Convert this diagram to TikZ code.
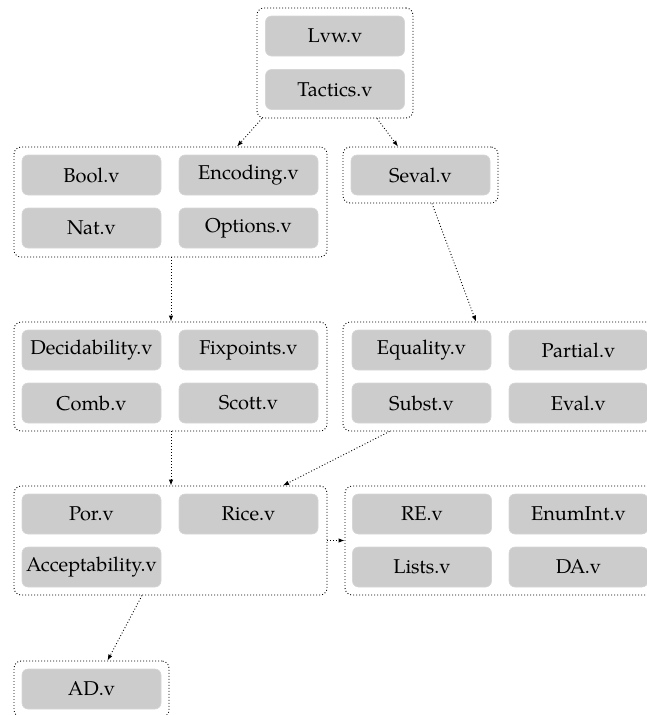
\documentclass[tikz,border=0pt]{standalone}
\usepackage{fontspec}
\setmainfont{TeX Gyre Pagella}
\usetikzlibrary{arrows.meta,calc}
\definecolor{boxgray}{RGB}{204,204,204}
\definecolor{boxedge}{RGB}{214,214,214}
\begin{document}
\begin{tikzpicture}[x=1pt,y=-1pt,
  file/.style={rectangle,rounded corners=6pt,fill=boxgray,draw=boxedge,line width=0.6pt,
    minimum width=139pt,minimum height=40pt,inner sep=0pt,
    font=\fontsize{20}{24}\selectfont},
  cluster/.style={rectangle,rounded corners=7pt,draw=black,line width=0.9pt,
    dash pattern=on 0.9pt off 2.1pt,inner sep=0pt},
  dep/.style={draw=black,line width=0.9pt,dash pattern=on 0.9pt off 2.1pt,
    -{Latex[length=6pt,width=4.5pt]}}]
\useasboundingbox (0,0) rectangle (647,715);
\begin{scope}
\clip (0,0) rectangle (647,715);
% clusters
\node[cluster,minimum width=156pt,minimum height=110pt] (ctop) at (335,63) {};
\node[cluster,minimum width=313pt,minimum height=110pt] (cbase) at (170.5,202) {};
\node[cluster,minimum width=155pt,minimum height=56pt] (cseval) at (420.5,175) {};
\node[cluster,minimum width=313pt,minimum height=109pt] (cdec) at (170.5,376.5) {};
\node[cluster,minimum width=313pt,minimum height=109pt] (ceq) at (499.5,376.5) {};
\node[cluster,minimum width=313pt,minimum height=109pt] (cpor) at (170.5,540.5) {};
\node[cluster,minimum width=313pt,minimum height=109pt] (cre) at (501.5,540.5) {};
\node[cluster,minimum width=155pt,minimum height=56pt] (cad) at (91.5,689) {};
% files
\node[file] (lvw) at (335,36) {Lvw.v};
\node[file] (tactics) at (335,89.5) {Tactics.v};
\node[file] (bool) at (91.5,175) {Bool.v};
\node[file] (encoding) at (248.5,175) {Encoding.v};
\node[file] (nat) at (91.5,228) {Nat.v};
\node[file] (options) at (248.5,228) {Options.v};
\node[file] (seval) at (420.5,175) {Seval.v};
\node[file] (decid) at (91.5,350) {Decidability.v};
\node[file] (fix) at (248.5,350) {Fixpoints.v};
\node[file] (comb) at (91.5,403) {Comb.v};
\node[file] (scott) at (248.5,403) {Scott.v};
\node[file] (equality) at (421.5,350) {Equality.v};
\node[file] (partial) at (578.5,350) {Partial.v};
\node[file] (subst) at (421.5,403) {Subst.v};
\node[file] (eval) at (578.5,403) {Eval.v};
\node[file] (por) at (91.5,514) {Por.v};
\node[file] (rice) at (248.5,514) {Rice.v};
\node[file] (accept) at (91.5,567) {Acceptability.v};
\node[file] (re) at (422,514) {RE.v};
\node[file] (enumint) at (578.5,514) {EnumInt.v};
\node[file] (lists) at (422,567) {Lists.v};
\node[file] (da) at (578.5,567) {DA.v};
\node[file] (ad) at (91.5,689) {AD.v};
% connectors between clusters
\draw[dep] ($(ctop.south)+(-73,0)$) -- ($(cbase.north)+(66.5,0)$);
\draw[dep] ($(ctop.south)+(42,0)$) -- ($(cseval.north)+(-22.5,0)$);
\draw[dep] ($(cbase.south)+(0.5,0)$) -- ($(cdec.north)+(0.5,0)$);
\draw[dep] ($(cseval.south)+(11.5,0)$) -- ($(ceq.north)+(-23.5,0)$);
\draw[dep] ($(cdec.south)+(0.5,0)$) -- ($(cpor.north)+(0.5,0)$);
\draw[dep] ($(ceq.south)+(-110,0)$) -- ($(cpor.north)+(112.5,0)$);
\draw[dep] (cpor.east) -- (cre.west);
\draw[dep] ($(cpor.south)+(-28.5,0)$) -- ($(cad.north)+(16,0)$);
\end{scope}
\end{tikzpicture}
\end{document}
